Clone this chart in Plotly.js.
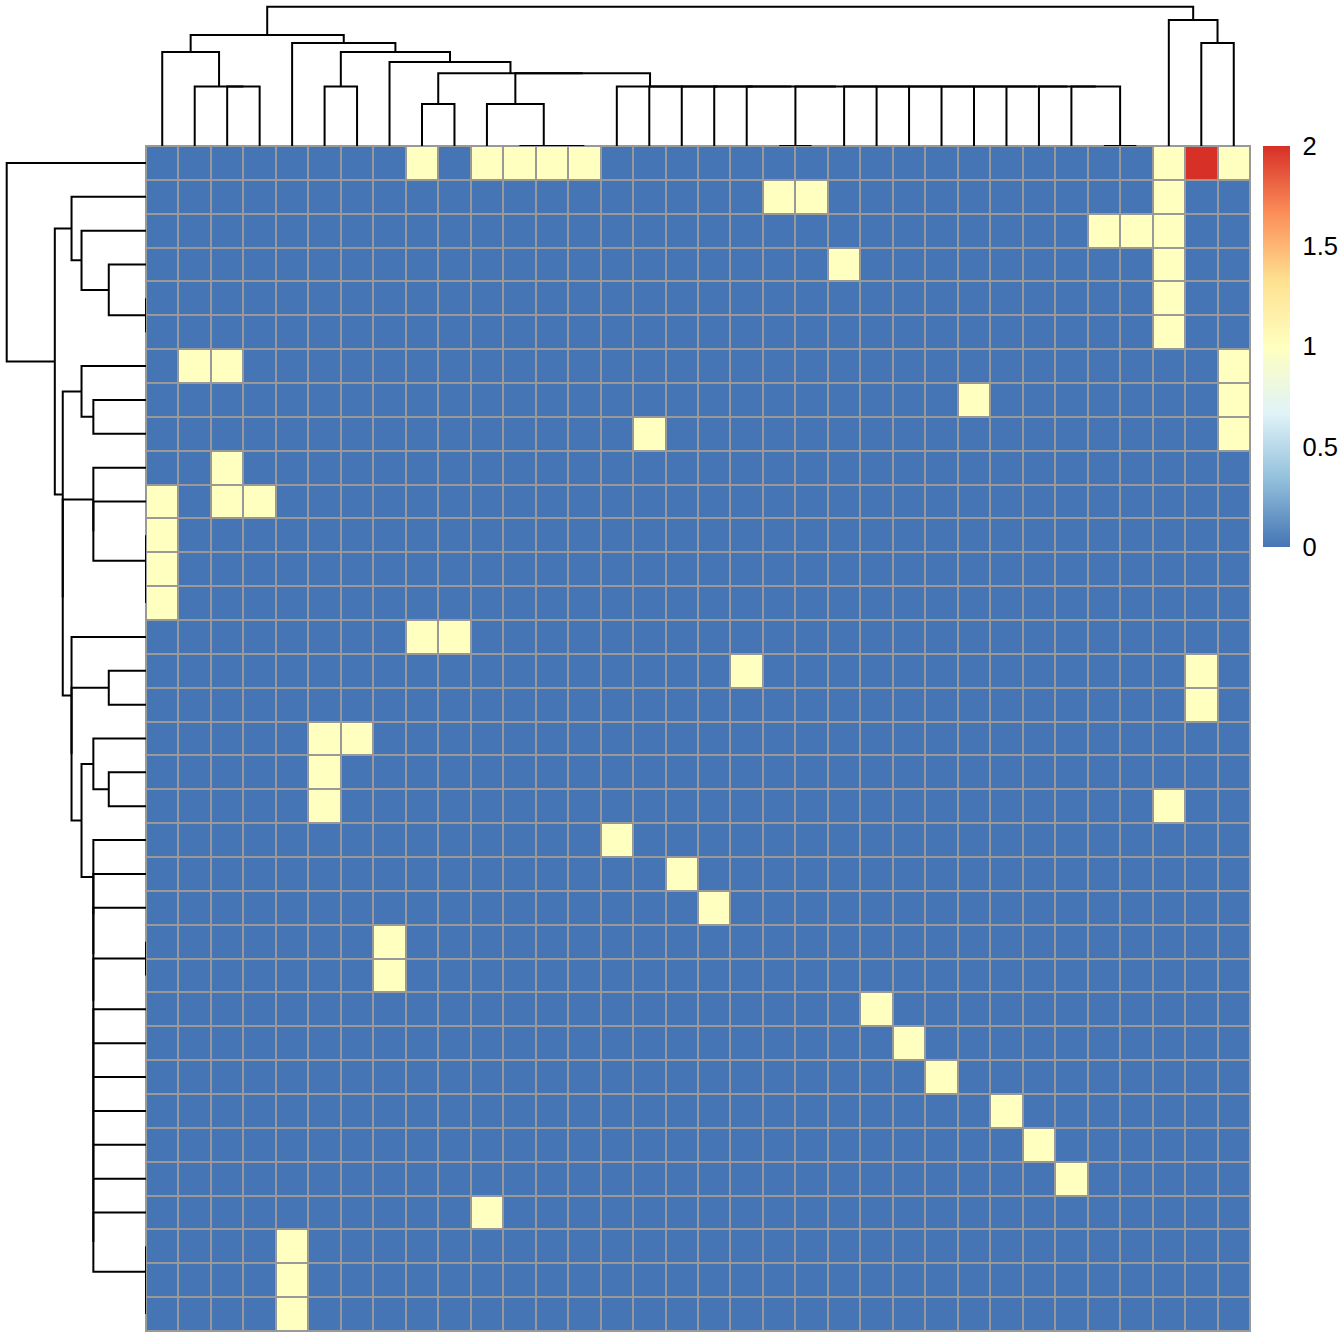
<!DOCTYPE html>
<html>
<head>
<meta charset="utf-8">
<script src="https://cdn.plot.ly/plotly-3.0.1.min.js"></script>
<style>
  html, body { margin: 0; padding: 0; background: #ffffff; }
  #chart { width: 1344px; height: 1344px; }
</style>
</head>
<body>
<div id="chart"></div>
<script>
// ---------------- DATA ----------------
// Heatmap values: 35 rows (top to bottom) x 34 columns (left to right), display order
const matrix = [
  [0,0,0,0,0,0,0,0,1,0,1,1,1,1,0,0,0,0,0,0,0,0,0,0,0,0,0,0,0,0,0,1,2,1],
  [0,0,0,0,0,0,0,0,0,0,0,0,0,0,0,0,0,0,0,1,1,0,0,0,0,0,0,0,0,0,0,1,0,0],
  [0,0,0,0,0,0,0,0,0,0,0,0,0,0,0,0,0,0,0,0,0,0,0,0,0,0,0,0,0,1,1,1,0,0],
  [0,0,0,0,0,0,0,0,0,0,0,0,0,0,0,0,0,0,0,0,0,1,0,0,0,0,0,0,0,0,0,1,0,0],
  [0,0,0,0,0,0,0,0,0,0,0,0,0,0,0,0,0,0,0,0,0,0,0,0,0,0,0,0,0,0,0,1,0,0],
  [0,0,0,0,0,0,0,0,0,0,0,0,0,0,0,0,0,0,0,0,0,0,0,0,0,0,0,0,0,0,0,1,0,0],
  [0,1,1,0,0,0,0,0,0,0,0,0,0,0,0,0,0,0,0,0,0,0,0,0,0,0,0,0,0,0,0,0,0,1],
  [0,0,0,0,0,0,0,0,0,0,0,0,0,0,0,0,0,0,0,0,0,0,0,0,0,1,0,0,0,0,0,0,0,1],
  [0,0,0,0,0,0,0,0,0,0,0,0,0,0,0,1,0,0,0,0,0,0,0,0,0,0,0,0,0,0,0,0,0,1],
  [0,0,1,0,0,0,0,0,0,0,0,0,0,0,0,0,0,0,0,0,0,0,0,0,0,0,0,0,0,0,0,0,0,0],
  [1,0,1,1,0,0,0,0,0,0,0,0,0,0,0,0,0,0,0,0,0,0,0,0,0,0,0,0,0,0,0,0,0,0],
  [1,0,0,0,0,0,0,0,0,0,0,0,0,0,0,0,0,0,0,0,0,0,0,0,0,0,0,0,0,0,0,0,0,0],
  [1,0,0,0,0,0,0,0,0,0,0,0,0,0,0,0,0,0,0,0,0,0,0,0,0,0,0,0,0,0,0,0,0,0],
  [1,0,0,0,0,0,0,0,0,0,0,0,0,0,0,0,0,0,0,0,0,0,0,0,0,0,0,0,0,0,0,0,0,0],
  [0,0,0,0,0,0,0,0,1,1,0,0,0,0,0,0,0,0,0,0,0,0,0,0,0,0,0,0,0,0,0,0,0,0],
  [0,0,0,0,0,0,0,0,0,0,0,0,0,0,0,0,0,0,1,0,0,0,0,0,0,0,0,0,0,0,0,0,1,0],
  [0,0,0,0,0,0,0,0,0,0,0,0,0,0,0,0,0,0,0,0,0,0,0,0,0,0,0,0,0,0,0,0,1,0],
  [0,0,0,0,0,1,1,0,0,0,0,0,0,0,0,0,0,0,0,0,0,0,0,0,0,0,0,0,0,0,0,0,0,0],
  [0,0,0,0,0,1,0,0,0,0,0,0,0,0,0,0,0,0,0,0,0,0,0,0,0,0,0,0,0,0,0,0,0,0],
  [0,0,0,0,0,1,0,0,0,0,0,0,0,0,0,0,0,0,0,0,0,0,0,0,0,0,0,0,0,0,0,1,0,0],
  [0,0,0,0,0,0,0,0,0,0,0,0,0,0,1,0,0,0,0,0,0,0,0,0,0,0,0,0,0,0,0,0,0,0],
  [0,0,0,0,0,0,0,0,0,0,0,0,0,0,0,0,1,0,0,0,0,0,0,0,0,0,0,0,0,0,0,0,0,0],
  [0,0,0,0,0,0,0,0,0,0,0,0,0,0,0,0,0,1,0,0,0,0,0,0,0,0,0,0,0,0,0,0,0,0],
  [0,0,0,0,0,0,0,1,0,0,0,0,0,0,0,0,0,0,0,0,0,0,0,0,0,0,0,0,0,0,0,0,0,0],
  [0,0,0,0,0,0,0,1,0,0,0,0,0,0,0,0,0,0,0,0,0,0,0,0,0,0,0,0,0,0,0,0,0,0],
  [0,0,0,0,0,0,0,0,0,0,0,0,0,0,0,0,0,0,0,0,0,0,1,0,0,0,0,0,0,0,0,0,0,0],
  [0,0,0,0,0,0,0,0,0,0,0,0,0,0,0,0,0,0,0,0,0,0,0,1,0,0,0,0,0,0,0,0,0,0],
  [0,0,0,0,0,0,0,0,0,0,0,0,0,0,0,0,0,0,0,0,0,0,0,0,1,0,0,0,0,0,0,0,0,0],
  [0,0,0,0,0,0,0,0,0,0,0,0,0,0,0,0,0,0,0,0,0,0,0,0,0,0,1,0,0,0,0,0,0,0],
  [0,0,0,0,0,0,0,0,0,0,0,0,0,0,0,0,0,0,0,0,0,0,0,0,0,0,0,1,0,0,0,0,0,0],
  [0,0,0,0,0,0,0,0,0,0,0,0,0,0,0,0,0,0,0,0,0,0,0,0,0,0,0,0,1,0,0,0,0,0],
  [0,0,0,0,0,0,0,0,0,0,1,0,0,0,0,0,0,0,0,0,0,0,0,0,0,0,0,0,0,0,0,0,0,0],
  [0,0,0,0,1,0,0,0,0,0,0,0,0,0,0,0,0,0,0,0,0,0,0,0,0,0,0,0,0,0,0,0,0,0],
  [0,0,0,0,1,0,0,0,0,0,0,0,0,0,0,0,0,0,0,0,0,0,0,0,0,0,0,0,0,0,0,0,0,0],
  [0,0,0,0,1,0,0,0,0,0,0,0,0,0,0,0,0,0,0,0,0,0,0,0,0,0,0,0,0,0,0,0,0,0]
];

// Colour ramp (reversed RdYlBu, 7 classes) and legend ticks
const rampColors = ["#4575B4","#91BFDB","#E0F3F8","#FFFFBF","#FEE090","#FC8D59","#D73027"];
const valueMin = 0;
const valueMax = 2;
const legendTickVals = [0, 0.5, 1, 1.5, 2];
const legendTickText = ["0", "0.5", "1", "1.5", "2"];

// Dendrogram topologies (leaf indices in display order); runs of same-height right-nested merges
const colChainUnits = [14,15,16,17,18,[19,20],21,22,23,24,25,26,27,28,[29,30]];
const rowChainUnits = [20,21,22,[23,24],25,26,27,28,29,30,31,[32,[33,34]]];

// ---------------- BUILD ----------------
function chain(u) { return u.length === 1 ? u[0] : [u[0], chain(u.slice(1))]; }

const colTree = [
  [ [0,[1,[2,3]]],
    [4, [[5,6], [7, [[8,9], [[10,[11,[12,13]]], chain(colChainUnits)]]]]] ],
  [31,[32,33]]
];
const rowTree = [
  0,
  [ [1,[2,[3,[4,5]]]],
    [ [6,[7,8]],
      [ [9,[10,[11,[12,13]]]],
        [14, [[15,16], [[17,[18,19]], chain(rowChainUnits)]]] ] ] ]
];

const nRows = matrix.length, nCols = matrix[0].length;
const rowVec = r => matrix[r];
const colVec = c => matrix.map(row => row[c]);
function dist(a, b) { let s = 0; for (let i = 0; i < a.length; i++) { const d = a[i]-b[i]; s += d*d; } return Math.sqrt(s); }
function leaves(n) { return Array.isArray(n) ? leaves(n[0]).concat(leaves(n[1])) : [n]; }

// complete linkage height + segment generation
function buildDendro(tree, vecFn) {
  const segs = [];
  function walk(n) {
    if (!Array.isArray(n)) return { pos: n, h: 0 };
    const L = walk(n[0]), R = walk(n[1]);
    const la = leaves(n[0]), lb = leaves(n[1]);
    let h = 0;
    la.forEach(a => lb.forEach(b => { h = Math.max(h, dist(vecFn(a), vecFn(b))); }));
    segs.push([[L.pos, L.h], [L.pos, h], [R.pos, h], [R.pos, R.h]]);
    return { pos: (L.pos + R.pos) / 2, h: h };
  }
  const root = walk(tree);
  return { segs, hmax: root.h };
}

const colD = buildDendro(colTree, colVec);
const rowD = buildDendro(rowTree, rowVec);

const cx = [], cy = [];
colD.segs.forEach(s => { s.forEach(p => { cx.push(p[0]); cy.push(p[1]); }); cx.push(null); cy.push(null); });
const rx = [], ry = [];
rowD.segs.forEach(s => { s.forEach(p => { rx.push(p[1]); ry.push(p[0]); }); rx.push(null); ry.push(null); });

const W = 1344;
const colscale = rampColors.map((c, i) => [i / (rampColors.length - 1), c]);
const xIdx = Array.from({length: nCols}, (_, i) => i);
const yIdx = Array.from({length: nRows}, (_, i) => i);

const heat = {
  type: 'heatmap', z: matrix, x: xIdx, y: yIdx, xaxis: 'x', yaxis: 'y',
  colorscale: colscale, zmin: valueMin, zmax: valueMax, xgap: 2, ygap: 2,
  hoverinfo: 'skip',
  colorbar: {
    x: 1262.7 / W, xanchor: 'left', y: 1 - 146 / W, yanchor: 'top',
    len: 400.7, lenmode: 'pixels', thickness: 27.3, thicknessmode: 'pixels',
    xpad: 0, ypad: 0, outlinewidth: 0,
    tickmode: 'array', tickvals: legendTickVals, ticktext: legendTickText,
    ticks: 'outside', ticklen: 8, tickcolor: 'rgba(0,0,0,0)',
    tickfont: { family: 'Liberation Sans, Arial, sans-serif', size: 25.5, color: '#000000' }
  }
};
const colTrace = { type: 'scatter', mode: 'lines', x: cx, y: cy, xaxis: 'x2', yaxis: 'y2',
  line: { color: '#000000', width: 2 }, hoverinfo: 'skip', showlegend: false };
const rowTrace = { type: 'scatter', mode: 'lines', x: rx, y: ry, xaxis: 'x3', yaxis: 'y3',
  line: { color: '#000000', width: 2 }, hoverinfo: 'skip', showlegend: false };

const hidden = { showgrid: false, zeroline: false, showticklabels: false, ticks: '', showline: false };
const hmDomX = [146 / W, 1250 / W];
const hmDomY = [13 / W, 1198 / W];
const extend = 144 / 139.3;

const layout = {
  width: 1344, height: 1344,
  margin: { l: 0, r: 0, t: 0, b: 0, pad: 0 },
  paper_bgcolor: '#ffffff', plot_bgcolor: 'rgba(0,0,0,0)',
  showlegend: false,
  font: { family: 'Liberation Sans, Arial, sans-serif', color: '#000000' },
  xaxis: Object.assign({}, hidden, { domain: hmDomX, range: [-0.5, nCols - 0.5], anchor: 'y',
    showline: true, mirror: true, linecolor: '#999999', linewidth: 1 }),
  yaxis: Object.assign({}, hidden, { domain: hmDomY, range: [nRows - 0.5, -0.5], anchor: 'x',
    showline: true, mirror: true, linecolor: '#999999', linewidth: 1 }),
  xaxis2: Object.assign({}, hidden, { domain: hmDomX, range: [-0.5, nCols - 0.5], anchor: 'y2' }),
  yaxis2: Object.assign({}, hidden, { domain: [1198 / W, 1342 / W], range: [0, colD.hmax * extend], anchor: 'x2' }),
  xaxis3: Object.assign({}, hidden, { domain: [2 / W, 146 / W], range: [rowD.hmax * extend, 0], anchor: 'y3' }),
  yaxis3: Object.assign({}, hidden, { domain: hmDomY, range: [nRows - 0.5, -0.5], anchor: 'x3' }),
  shapes: [{ type: 'rect', xref: 'x domain', yref: 'y domain', x0: 0, x1: 1, y0: 0, y1: 1,
    fillcolor: '#999999', line: { width: 0 }, layer: 'below' }]
};

Plotly.newPlot('chart', [heat, colTrace, rowTrace], layout, { displayModeBar: false, staticPlot: true });
</script>
</body>
</html>
